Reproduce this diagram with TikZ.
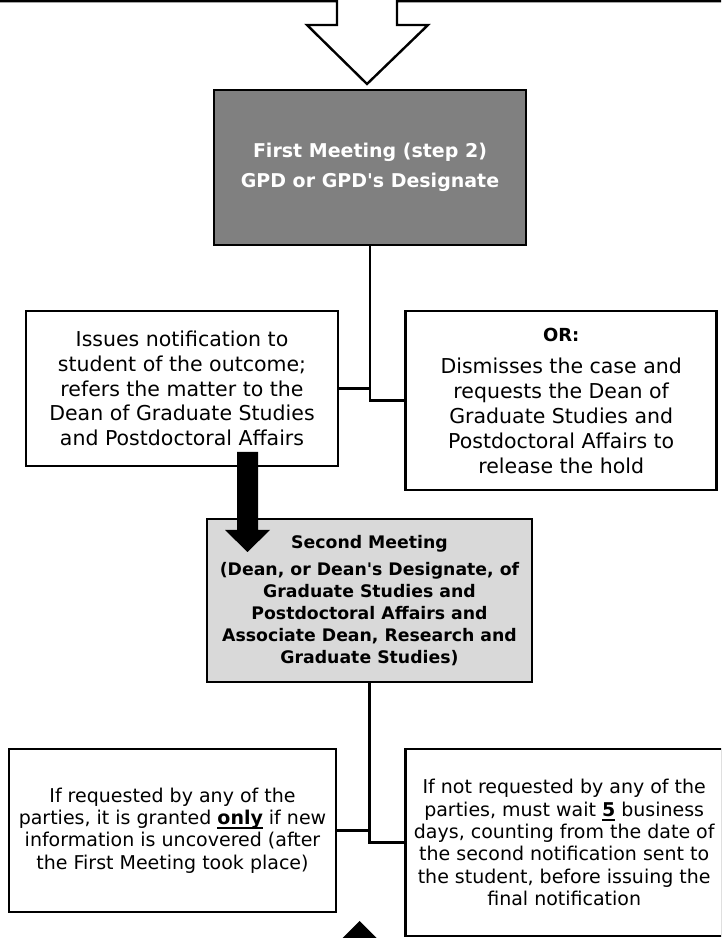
\documentclass[tikz,border=0pt]{standalone}
\usepackage{fontspec}
\setmainfont{DejaVu Sans}[Ligatures=TeXOff]
\usepackage{tikz}
\usetikzlibrary{positioning}
\definecolor{MeetGray}{HTML}{808080}
\definecolor{PaleGray}{HTML}{D9D9D9}
\newcommand{\ulbold}[1]{\setbox0=\hbox{\bfseries #1}\rlap{\vrule height -2.5pt depth 4.5pt width \wd0}\box0\relax}

\begin{document}
\begin{tikzpicture}[x=1pt, y=1pt,
  box_node/.style={rectangle, draw=black, line width=2.7pt, fill=white,
    inner sep=0pt, align=center, text=black},
  upper_text/.style={font=\fontsize{20.5}{24.8}\selectfont},
  lower_text/.style={font=\fontsize{19}{22.3}\selectfont},
  dark_node/.style={box_node, fill=MeetGray, text=white,
    font=\fontsize{19}{30}\selectfont\bfseries},
  pale_node/.style={box_node, fill=PaleGray, font=\fontsize{17.3}{22}\selectfont\bfseries},
  link/.style={line width=2.4pt, black},
  hollow/.style={line width=2.4pt, line join=miter, black},
  block/.style={fill=black}
]
  \useasboundingbox (0,0) rectangle (721,938);
  \clip (0,0) rectangle (721,938);

  \node[dark_node, minimum width=312pt, minimum height=155pt] (first) at (370,770.5)
    {First Meeting (step 2)\\GPD or GPD's Designate};
  \node[box_node, upper_text, minimum width=312pt, minimum height=155pt] (issues) at (182,549.5)
    {Issues notification to\\student of the outcome;\\refers the matter to the\\Dean of Graduate Studies\\and Postdoctoral Affairs};
  \node[box_node, upper_text, minimum width=311pt, minimum height=179pt,
    right=65pt of issues.north east, anchor=north west] (dismiss)
    {{\bfseries\fontsize{18}{24.8}\selectfont OR:}\\[8pt]Dismisses the case and\\requests the Dean of\\Graduate Studies and\\Postdoctoral Affairs to\\release the hold};

  \node[pale_node, minimum width=325pt, minimum height=163pt] (second) at (369.5,337.5)
    {Second Meeting\\[5pt](Dean, or Dean's Designate, of\\Graduate Studies and\\Postdoctoral Affairs and\\Associate Dean, Research and\\Graduate Studies)};

  \node[box_node, lower_text, minimum width=327pt, minimum height=163pt] (granted) at (172.5,107.5)
    {If requested by any of the\\parties, it is granted \ulbold{only} if new\\information is uncovered (after\\the First Meeting took place)};
  \node[box_node, lower_text, minimum width=317pt, minimum height=187pt,
    right=67pt of granted.north east, anchor=north west] (wait)
    {If not requested by any of the\\parties, must wait \ulbold{5} business\\days, counting from the date of\\the second notification sent to\\the student, before issuing the\\final notification};

  \draw[link] (first.south) |- (issues.east);
  \draw[link] (first.south) |- (dismiss.west);
  \draw[link] (second.south) |- (granted.east);
  \draw[link] (second.south) |- (wait.west);

  % open arrow coming in from above
  \draw[hollow] (0,936.8) -- (337,936.8) -- (337,913) -- (307,913) -- (367,854)
    -- (428,913) -- (397,913) -- (397,936.8) -- (721,936.8);

  % solid arrow down into the second meeting
  \coordinate (drop_top) at (247.5,486);
  \fill[block] (drop_top) ++(-10.5,0) -- ++(21,0) -- ++(0,-78) -- ++(12,0)
    -- ++(-22.5,-22) -- ++(-22.5,22) -- ++(12,0) -- cycle;

  % tip of the next arrow
  \fill[block] (334.5,-8) -- (359.5,17) -- (384.5,-8) -- cycle;

\end{tikzpicture}
\end{document}
